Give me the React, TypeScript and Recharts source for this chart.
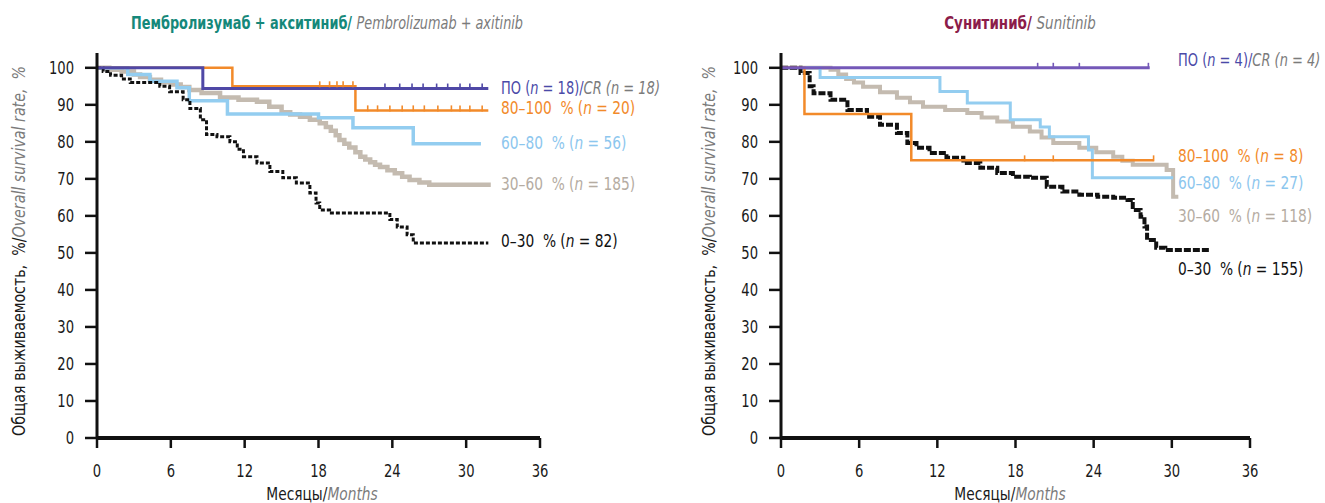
import React from 'react';
import { ComposedChart, Line, XAxis, YAxis } from 'recharts';

type P = { t: number; s: number };

const FONT = '"Liberation Sans Narrow", "DejaVu Sans Condensed", "Roboto Condensed", "Open Sans", sans-serif';

// ---------- tick labels ----------
const monthTicks = [0, 6, 12, 18, 24, 30, 36];
const rateTicks = [0, 10, 20, 30, 40, 50, 60, 70, 80, 90, 100];

// ---------- Pembrolizumab + axitinib ----------
const pemCR: P[] = [{ t: 0, s: 100 }, { t: 8.6, s: 94.4 }, { t: 31.8, s: 94.4 }];
const pem80: P[] = [{ t: 0, s: 100 }, { t: 11.0, s: 95.0 }, { t: 21.0, s: 88.5 }, { t: 31.8, s: 88.5 }];
const pem60: P[] = [
  { t: 0, s: 100 }, { t: 2.5, s: 98.2 }, { t: 4.3, s: 96.4 }, { t: 6.5, s: 94.6 }, { t: 7.5, s: 91.1 },
  { t: 10.6, s: 87.5 }, { t: 18.0, s: 86.5 }, { t: 20.8, s: 83.8 }, { t: 25.7, s: 79.5 }, { t: 31.2, s: 79.5 },
];
const pem30: P[] = [
  { t: 0, s: 100 }, { t: 1, s: 99.5 }, { t: 2, s: 99 }, { t: 3, s: 98.2 }, { t: 3.5, s: 97.5 }, { t: 4.3, s: 96.8 },
  { t: 5.2, s: 96.1 }, { t: 6, s: 95.5 }, { t: 6.8, s: 94.8 }, { t: 7.5, s: 94 }, { t: 8.5, s: 93.2 }, { t: 10, s: 92 },
  { t: 11.5, s: 91.4 }, { t: 13, s: 90.8 }, { t: 14, s: 89.5 }, { t: 15, s: 88 }, { t: 15.7, s: 87.4 },
  { t: 16.5, s: 86.8 }, { t: 17.3, s: 86 }, { t: 18.1, s: 85 }, { t: 18.6, s: 84 }, { t: 19, s: 83 },
  { t: 19.4, s: 81.8 }, { t: 19.7, s: 80.5 }, { t: 20.1, s: 79.5 }, { t: 20.5, s: 78.5 }, { t: 21, s: 77.2 },
  { t: 21.4, s: 76 }, { t: 21.8, s: 75.2 }, { t: 22.2, s: 74.5 }, { t: 22.6, s: 73.8 }, { t: 23, s: 73.2 },
  { t: 23.6, s: 72.3 }, { t: 24.2, s: 71.5 }, { t: 24.8, s: 70.6 }, { t: 25.4, s: 69.7 }, { t: 26.2, s: 69 },
  { t: 27, s: 68.4 }, { t: 32, s: 68.4 },
];
const pem0: P[] = [
  { t: 0, s: 100 }, { t: 0.5, s: 99 }, { t: 1.1, s: 98 }, { t: 2, s: 97 }, { t: 2.7, s: 96 }, { t: 5.1, s: 95 },
  { t: 5.9, s: 93.5 }, { t: 7, s: 91.4 }, { t: 7.55, s: 89 }, { t: 8.4, s: 86 }, { t: 8.9, s: 82 }, { t: 9.75, s: 81.4 },
  { t: 10.8, s: 80 }, { t: 11.4, s: 78 }, { t: 11.9, s: 76 }, { t: 13, s: 74.3 }, { t: 14.05, s: 72 }, { t: 15.1, s: 70.3 },
  { t: 16.2, s: 68.9 }, { t: 17.3, s: 66.2 }, { t: 17.8, s: 63.5 }, { t: 18.1, s: 61.6 }, { t: 18.9, s: 60.8 },
  { t: 23.5, s: 60.8 }, { t: 23.8, s: 59 }, { t: 24.4, s: 57 }, { t: 25.2, s: 54.9 }, { t: 25.7, s: 52.7 }, { t: 31.8, s: 52.7 },
];
const pemCRCensor: P[] = [23.4, 24.6, 25.6, 26.5, 27.6, 28.5, 29.5, 30.3, 31.3].map((t) => ({ t, s: 94.4 }));
const pem80Censor: P[] = [
  ...[18.1, 18.9, 19.5, 20.0, 20.8].map((t) => ({ t, s: 95.0 })),
  ...[22.0, 22.8, 23.8, 24.8, 25.7, 26.6, 27.7, 28.8, 29.5, 30.3, 31.3].map((t) => ({ t, s: 88.5 })),
];

// ---------- Sunitinib ----------
const sunCR: P[] = [{ t: 0, s: 100 }, { t: 28.3, s: 100 }];
const sun80: P[] = [{ t: 0, s: 100 }, { t: 1.8, s: 87.5 }, { t: 10.0, s: 75.0 }, { t: 28.6, s: 75.0 }];
const sun60: P[] = [
  { t: 0, s: 100 }, { t: 3.0, s: 97.4 }, { t: 12.2, s: 93.6 }, { t: 14.3, s: 90.5 }, { t: 17.6, s: 86 },
  { t: 19.9, s: 84 }, { t: 20.6, s: 81.4 }, { t: 23.6, s: 77.8 }, { t: 23.9, s: 70.3 }, { t: 30.1, s: 70.3 },
];
const sun30: P[] = [
  { t: 0, s: 100 }, { t: 3.8, s: 99.5 }, { t: 4.4, s: 98.2 }, { t: 5, s: 97 }, { t: 5.6, s: 96 }, { t: 6.3, s: 94.9 },
  { t: 7.6, s: 93.4 }, { t: 8.9, s: 91.9 }, { t: 9.9, s: 90.7 }, { t: 10.9, s: 89.5 }, { t: 12.6, s: 88.6 },
  { t: 14.3, s: 87.8 }, { t: 15.4, s: 86.6 }, { t: 16.6, s: 85.5 }, { t: 17.8, s: 84.1 }, { t: 19.1, s: 82.8 },
  { t: 20, s: 81.2 }, { t: 20.9, s: 79.7 }, { t: 22.9, s: 78.4 }, { t: 24.2, s: 77.2 }, { t: 25.5, s: 76 },
  { t: 26.2, s: 74.9 }, { t: 27, s: 73.8 }, { t: 29.6, s: 72.4 }, { t: 30.1, s: 65.2 }, { t: 30.5, s: 65.2 },
];
const sun0: P[] = [
  { t: 0, s: 100 }, { t: 1.5, s: 98.6 }, { t: 2.2, s: 95 }, { t: 2.5, s: 93.1 }, { t: 3.8, s: 91.4 }, { t: 5.1, s: 88.6 },
  { t: 6.6, s: 86.8 }, { t: 7.6, s: 84.6 }, { t: 8.9, s: 82.4 }, { t: 9.7, s: 79.7 }, { t: 10.4, s: 78.4 },
  { t: 11.4, s: 77 }, { t: 12.7, s: 75.7 }, { t: 14, s: 74.3 }, { t: 15.3, s: 73 }, { t: 16.6, s: 71.6 },
  { t: 17.8, s: 70.6 }, { t: 19.1, s: 70.3 }, { t: 20.4, s: 67.9 }, { t: 21.6, s: 66.6 }, { t: 22.9, s: 65.7 },
  { t: 24.3, s: 65.2 }, { t: 25.5, s: 64.9 }, { t: 26.6, s: 64.3 }, { t: 27, s: 61.6 }, { t: 27.6, s: 59.8 },
  { t: 27.9, s: 57.1 }, { t: 28.1, s: 53.5 }, { t: 28.8, s: 51.4 }, { t: 29.5, s: 50.8 }, { t: 32.9, s: 50.8 },
];
const sunCRCensor: P[] = [19.7, 20.9, 22.9, 28.2].map((t) => ({ t, s: 100 }));
const sun80Censor: P[] = [18.7, 20.9, 28.6].map((t) => ({ t, s: 75.0 }));

// ---------- labels ----------
const pemLabels = { cr: 18, g80: 20, g60: 56, g30: 185, g0: 82 };
const sunLabels = { cr: 4, g80: 8, g60: 27, g30: 118, g0: 155 };

const C = {
  purpleL: '#4f48a6',
  purpleR: '#7458b8',
  orange: '#f28a2a',
  blue: '#93cdf0',
  gray: '#c4bbb0',
  black: '#111111',
  grayText: '#7b7b7b',
};

type SeriesDef = { data: P[]; color: string; width: number; dash?: string; opacity?: number };

const censorDot = (color: string) => (props: any) => {
  const { cx, cy, index } = props;
  if (cx == null || cy == null) return <g key={`c${index}`} />;
  return <line key={`c${index}`} x1={cx} x2={cx} y1={cy - 5} y2={cy + 1} stroke={color} strokeWidth={1.6} />;
};

const XTick = (props: any) => {
  const { x, y, payload } = props;
  return (
    <g transform={`translate(${x},${y})`}>
      <text transform="scale(0.86,1)" textAnchor="middle" dy="0.71em" fontFamily={FONT} fontSize={17} fill="#1a1a1a">
        {payload.value}
      </text>
    </g>
  );
};

const YTick = (props: any) => {
  const { x, y, payload } = props;
  return (
    <g transform={`translate(${x},${y})`}>
      <text transform="scale(0.86,1)" textAnchor="end" dy="0.36em" fontFamily={FONT} fontSize={17} fill="#1a1a1a">
        {payload.value}
      </text>
    </g>
  );
};

function KMChart(props: {
  width: number;
  yAxisWidth: number;
  rightMargin: number;
  series: SeriesDef[];
  censors: { data: P[]; color: string }[];
}) {
  const { width, yAxisWidth, rightMargin, series, censors } = props;
  return (
    <ComposedChart width={width} height={503} margin={{ top: 53, right: rightMargin, bottom: 0, left: 0 }}>
      <XAxis
        type="number"
        dataKey="t"
        domain={[0, 36]}
        ticks={monthTicks}
        interval={0}
        height={65}
        tick={<XTick />}
        tickSize={10}
        tickMargin={17}
        axisLine={{ stroke: '#111', strokeWidth: 4 }}
        tickLine={{ stroke: '#111', strokeWidth: 2.5 }}
        allowDataOverflow
      />
      <YAxis
        type="number"
        dataKey="s"
        domain={[0, 104]}
        ticks={rateTicks}
        interval={0}
        width={yAxisWidth}
        tick={<YTick />}
        tickSize={12}
        tickMargin={11}
        axisLine={{ stroke: '#111', strokeWidth: 3 }}
        tickLine={{ stroke: '#111', strokeWidth: 2.5 }}
        allowDataOverflow
      />
      {series.map((s, i) => (
        <Line
          key={`s${i}`}
          data={s.data}
          dataKey="s"
          type="stepAfter"
          stroke={s.color}
          strokeWidth={s.width}
          strokeDasharray={s.dash}
          strokeOpacity={s.opacity ?? 1}
          dot={false}
          activeDot={false}
          isAnimationActive={false}
        />
      ))}
      {censors.map((c, i) => (
        <Line
          key={`k${i}`}
          data={c.data}
          dataKey="s"
          stroke="none"
          strokeWidth={0}
          dot={censorDot(c.color)}
          activeDot={false}
          isAnimationActive={false}
        />
      ))}
    </ComposedChart>
  );
}

const abs = (left: number, top: number, extra: React.CSSProperties = {}): React.CSSProperties => ({
  position: 'absolute',
  left,
  top,
  fontFamily: FONT,
  whiteSpace: 'pre',
  lineHeight: '20px',
  transformOrigin: '0 50%',
  transform: 'translateY(-50%) scaleX(0.9)',
  ...extra,
});

const centered = (scale: number): React.CSSProperties => ({
  transformOrigin: '50% 50%',
  transform: `translate(-50%, -50%) scaleX(${scale})`,
});

function GroupLabel({ x, y, color, text, n }: { x: number; y: number; color: string; text: string; n: number }) {
  return (
    <div style={abs(x, y, { color, fontSize: 17 })}>
      {text}% (<i>n</i> = {n})
    </div>
  );
}

function CRLabel({ x, y, n }: { x: number; y: number; n: number }) {
  return (
    <div style={abs(x, y, { fontSize: 17, color: '#4a4aa8', transform: 'translateY(-50%) scaleX(0.85)' })}>
      ПО (<i>n</i> = {n})/<span style={{ fontStyle: 'italic', color: C.grayText }}>CR (n = {n})</span>
    </div>
  );
}

export default function App() {
  return (
    <div style={{ position: 'absolute', left: 0, top: 0, width: 1325, height: 503, background: '#fff', overflow: 'hidden' }}>
      {/* left chart */}
      <div style={{ position: 'absolute', left: 0, top: 0 }}>
        <KMChart
          width={662}
          yAxisWidth={97}
          rightMargin={122}
          series={[
            { data: pem30, color: C.gray, width: 4.5 },
            { data: pem60, color: C.blue, width: 3.5 },
            { data: pem0, color: C.black, width: 3, dash: '4 2' },
            { data: pem80, color: C.orange, width: 2.5 },
            { data: pemCR, color: C.purpleL, width: 3 },
          ]}
          censors={[
            { data: pem80Censor, color: C.orange },
            { data: pemCRCensor, color: C.purpleL },
          ]}
        />
      </div>
      {/* right chart */}
      <div style={{ position: 'absolute', left: 662, top: 0 }}>
        <KMChart
          width={663}
          yAxisWidth={119}
          rightMargin={75}
          series={[
            { data: sun30, color: C.gray, width: 4 },
            { data: sun60, color: C.blue, width: 3 },
            { data: sun0, color: C.black, width: 4, dash: '7 2' },
            { data: sun80, color: C.orange, width: 2.5 },
            { data: sunCR, color: C.purpleR, width: 3 },
          ]}
          censors={[
            { data: sun80Censor, color: C.orange },
            { data: sunCRCensor, color: C.purpleR },
          ]}
        />
      </div>

      {/* titles */}
      <div style={abs(327, 23, { ...centered(0.84), fontSize: 17, fontWeight: 'bold', color: '#15887a' })}>
        Пембролизумаб + акситиниб/ <span style={{ fontWeight: 'normal', fontStyle: 'italic', color: C.grayText }}>Pembrolizumab + axitinib</span>
      </div>
      <div style={abs(1020, 23, { ...centered(0.88), fontSize: 17, fontWeight: 'bold', color: '#8c1c4a' })}>
        Сунитиниб/ <span style={{ fontWeight: 'normal', fontStyle: 'italic', color: C.grayText }}>Sunitinib</span>
      </div>

      {/* y axis titles */}
      {[19, 709].map((x) => (
        <div
          key={x}
          style={abs(x, 251, {
            transformOrigin: '50% 50%',
            transform: 'translate(-50%, -50%) rotate(-90deg) scaleX(0.93)',
            fontSize: 17,
            color: '#1a1a1a',
          })}
        >
          Общая выживаемость,  %/<span style={{ fontStyle: 'italic', color: C.grayText }}>Overall survival rate,  %</span>
        </div>
      ))}

      {/* x axis titles */}
      {[322, 1010].map((x) => (
        <div key={x} style={abs(x, 494, { ...centered(0.9), fontSize: 17, color: '#1a1a1a' })}>
          Месяцы/<span style={{ fontStyle: 'italic', color: C.grayText }}>Months</span>
        </div>
      ))}

      {/* left group labels */}
      <CRLabel x={501} y={88} n={pemLabels.cr} />
      <GroupLabel x={501} y={108} color={C.orange} text="80–100  " n={pemLabels.g80} />
      <GroupLabel x={501} y={143} color="#8cc6ee" text="60–80  " n={pemLabels.g60} />
      <GroupLabel x={501} y={184} color="#b5aca2" text="30–60  " n={pemLabels.g30} />
      <GroupLabel x={501} y={241} color="#111" text="0–30  " n={pemLabels.g0} />

      {/* right group labels */}
      <CRLabel x={1178} y={60} n={sunLabels.cr} />
      <GroupLabel x={1178} y={156} color={C.orange} text="80–100  " n={sunLabels.g80} />
      <GroupLabel x={1178} y={183} color="#8cc6ee" text="60–80  " n={sunLabels.g60} />
      <GroupLabel x={1178} y={216} color="#b5aca2" text="30–60  " n={sunLabels.g30} />
      <GroupLabel x={1178} y={269} color="#111" text="0–30  " n={sunLabels.g0} />
    </div>
  );
}
